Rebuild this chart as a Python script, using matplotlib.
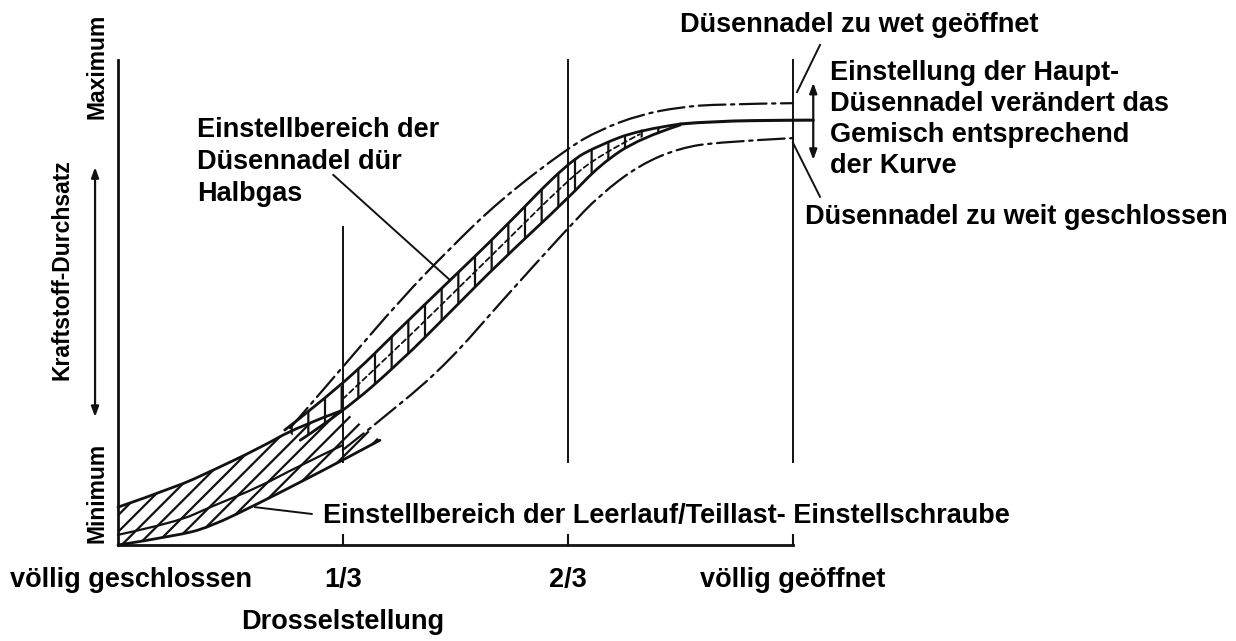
import matplotlib.pyplot as plt
import numpy as np
from matplotlib.path import Path
from matplotlib.patches import PathPatch

plt.rcParams['font.family'] = ['Liberation Sans', 'DejaVu Sans']
plt.rcParams['font.weight'] = 'bold'
plt.rcParams['hatch.linewidth'] = 1.6

INK = '#111111'

# throttle position (0 = closed, 1 = fully open) vs fuel flow (0 = min, 1 = max)
# upper dash-dot: needle too far open
x_open = [0.255, 0.333, 0.418, 0.492, 0.566, 0.667, 0.714, 0.773, 0.833, 0.892, 1.0]
y_open = [0.241, 0.367, 0.505, 0.612, 0.711, 0.819, 0.856, 0.887, 0.903, 0.909, 0.911]

# lower dash-dot: needle too far closed
x_closed = [0.333, 0.418, 0.492, 0.566, 0.667, 0.714, 0.773, 0.833, 0.892, 1.0]
y_closed = [0.196, 0.289, 0.381, 0.499, 0.654, 0.722, 0.784, 0.819, 0.831, 0.839]

# half-throttle needle band
x_band_hi = [0.247, 0.333, 0.418, 0.492, 0.566, 0.667, 0.714, 0.773, 0.833]
y_band_hi = [0.237, 0.330, 0.447, 0.546, 0.645, 0.790, 0.825, 0.856, 0.868]
x_band_lo = [0.270, 0.333, 0.418, 0.492, 0.566, 0.667, 0.714, 0.773, 0.833]
y_band_lo = [0.216, 0.274, 0.377, 0.480, 0.584, 0.715, 0.784, 0.839, 0.866]
x_band_mid = [0.333, 0.418, 0.492, 0.566, 0.667, 0.714, 0.773]
y_band_mid = [0.301, 0.412, 0.513, 0.614, 0.753, 0.804, 0.847]

# main curve at full throttle
x_main = [0.833, 0.881, 1.0, 1.030]
y_main = [0.868, 0.874, 0.876, 0.876]

# idle / part-load screw band
x_idle_hi = [0.0, 0.087, 0.136, 0.210, 0.265, 0.333]
y_idle_hi = [0.078, 0.120, 0.151, 0.200, 0.243, 0.278]
x_idle_mid = [0.0, 0.087, 0.136, 0.210, 0.265, 0.333]
y_idle_mid = [0.021, 0.047, 0.078, 0.120, 0.161, 0.206]
x_idle_lo = [0.0, 0.087, 0.136, 0.210, 0.265, 0.333, 0.388]
y_idle_lo = [0.0, 0.019, 0.037, 0.087, 0.126, 0.175, 0.216]

throttle_ticks = [1 / 3, 2 / 3, 1.0]
throttle_labels = ['1/3', '2/3', 'völlig geöffnet']
guide_bottom = 0.171
guide_tops = [0.656, 1.0, 1.0]


def smooth(xs, ys):
    # quadratic curve through the midpoints, the read points act as controls
    pts = np.column_stack([xs, ys])
    verts = [pts[0]]
    codes = [Path.MOVETO]
    for i in range(1, len(pts) - 1):
        end = pts[i + 1] if i == len(pts) - 2 else (pts[i] + pts[i + 1]) / 2
        verts += [pts[i], end]
        codes += [Path.CURVE3, Path.CURVE3]
    if len(pts) == 2:
        verts.append(pts[1])
        codes.append(Path.LINETO)
    return Path(verts, codes)


def curve(xs, ys, **kw):
    ax.add_patch(PathPatch(smooth(xs, ys), facecolor='none', edgecolor=INK,
                           capstyle='round', **kw))


fig = plt.figure(figsize=(12.36, 6.41), dpi=100)
ax = fig.add_axes([0, 0, 1, 1])
ax.set_xlim(-118 / 675, 1118 / 675)
ax.set_ylim(-96 / 485, 545 / 485)
ax.axis('off')

# axes
ax.plot([0, 0], [0, 1.0], color=INK, lw=2.0)
ax.plot([0, 1.0], [0, 0], color=INK, lw=2.0)
for t in throttle_ticks:
    ax.plot([t, t], [0, 0.02], color=INK, lw=1.5)

# vertical guide lines
for t, top in zip(throttle_ticks, guide_tops):
    ax.plot([t, t], [guide_bottom, top], color=INK, lw=1.4)

# hatched bands
ax.fill(np.concatenate([x_idle_hi, x_idle_lo[::-1]]),
        np.concatenate([y_idle_hi, y_idle_lo[::-1]]),
        facecolor='none', edgecolor=INK, lw=0, hatch='//')
ax.fill(np.concatenate([x_band_hi, x_band_lo[::-1]]),
        np.concatenate([y_band_hi, y_band_lo[::-1]]),
        facecolor='none', edgecolor=INK, lw=0, hatch='|')

curve(x_idle_hi, y_idle_hi, lw=2.0)
curve(x_idle_mid, y_idle_mid, lw=1.6)
curve(x_idle_lo, y_idle_lo, lw=2.0)
curve(x_band_hi, y_band_hi, lw=2.0)
curve(x_band_lo, y_band_lo, lw=2.0)
curve(x_band_mid, y_band_mid, lw=1.3, ls=(0, (3, 2)))
curve(x_main, y_main, lw=2.2)

dashdot = (0, (12, 2.5, 1.5, 2.5))
curve(x_open, y_open, lw=1.6, ls=dashdot)
curve(x_closed, y_closed, lw=1.6, ls=dashdot)

# arrows
arrow = dict(arrowstyle='<|-|>,head_length=0.6,head_width=0.22', color=INK, lw=1.6,
             shrinkA=0, shrinkB=0)
ax.annotate('', xy=(-0.034, 0.779), xytext=(-0.034, 0.264), arrowprops=arrow)
ax.annotate('', xy=(1.030, 0.953), xytext=(1.030, 0.794), arrowprops=arrow)

# leader lines
leader = dict(color=INK, lw=1.4)
ax.plot([0.319, 0.492], [0.763, 0.546], **leader)
ax.plot([0.203, 0.287], [0.078, 0.064], **leader)
ax.plot([1.040, 1.006], [1.031, 0.934], **leader)
ax.plot([1.0, 1.040], [0.829, 0.718], **leader)

fs = 19.5
fsv = 16.5
ax.text(-0.031, 0.986, 'Maximum', rotation=90, ha='center', va='center', fontsize=fsv)
ax.text(-0.083, 0.567, 'Kraftstoff-Durchsatz', rotation=90, ha='center', va='center', fontsize=fsv)
ax.text(-0.031, 0.107, 'Minimum', rotation=90, ha='center', va='center', fontsize=fsv)

ax.text(-0.160, -0.072, 'völlig geschlossen', ha='left', va='center', fontsize=fs)
for t, lab in zip(throttle_ticks, throttle_labels):
    ax.text(t, -0.072, lab, ha='center', va='center', fontsize=fs)
ax.text(1 / 3, -0.159, 'Drosselstellung', ha='center', va='center', fontsize=fs)

ax.text(0.304, 0.060, 'Einstellbereich der Leerlauf/Teillast- Einstellschraube',
        ha='left', va='center', fontsize=fs)
ax.text(0.117, 0.790, 'Einstellbereich der\nDüsennadel dür\nHalbgas',
        ha='left', va='center', fontsize=fs, linespacing=1.3)
ax.text(0.833, 1.072, 'Düsennadel zu wet geöffnet', ha='left', va='center', fontsize=fs)
ax.text(1.055, 0.878, 'Einstellung der Haupt-\nDüsennadel verändert das\n'
        'Gemisch entsprechend\nder Kurve', ha='left', va='center', fontsize=fs,
        linespacing=1.25)
ax.text(1.018, 0.676, 'Düsennadel zu weit geschlossen', ha='left', va='center', fontsize=fs)

fig.savefig('out.png', dpi=100, facecolor='white')
